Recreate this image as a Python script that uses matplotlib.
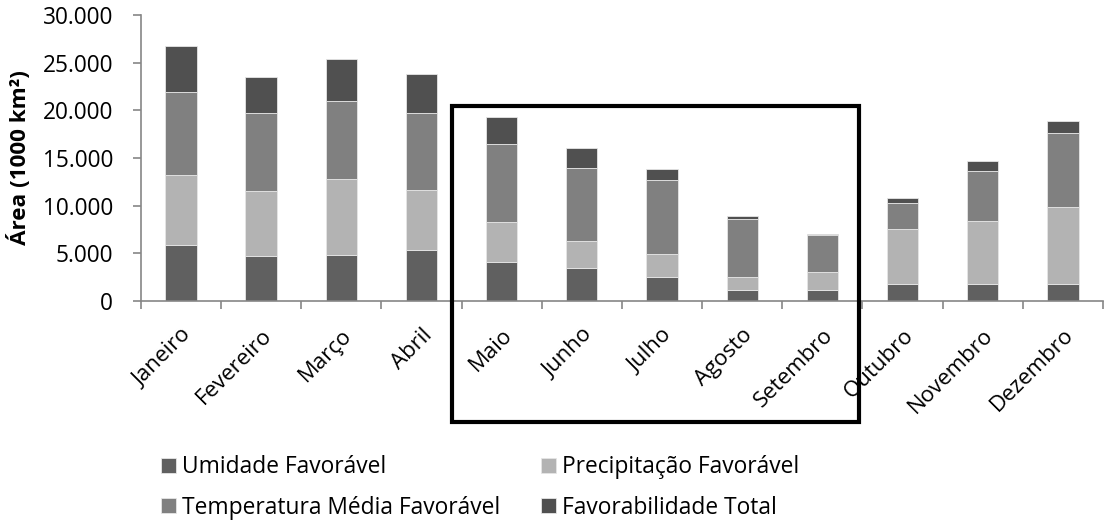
import numpy as np
import matplotlib
matplotlib.use('Agg')
import matplotlib.pyplot as plt
from matplotlib.patches import Rectangle
from matplotlib.ticker import FuncFormatter, FixedLocator

plt.rcParams['font.family'] = ['Open Sans', 'DejaVu Sans']

meses = ['Janeiro', 'Fevereiro', 'Março', 'Abril', 'Maio', 'Junho', 'Julho',
         'Agosto', 'Setembro', 'Outubro', 'Novembro', 'Dezembro']

# area per class (1000 km2), stacked bottom to top
umidade = [5900, 4700, 4800, 5350, 4100, 3450, 2550, 1150, 1150, 1800, 1800, 1800]
precipitacao = [7300, 6800, 8000, 6300, 4200, 2800, 2400, 1330, 1900, 5750, 6600, 8100]
temperatura = [8700, 8200, 8200, 8050, 8200, 7700, 7750, 6100, 3900, 2750, 5250, 7750]
total = [4900, 3800, 4350, 4150, 2850, 2150, 1100, 300, 50, 550, 1000, 1250]

series = [
    ('Umidade Favorável', umidade, '#606060'),
    ('Precipitação Favorável', precipitacao, '#b3b3b3'),
    ('Temperatura Média Favorável', temperatura, '#808080'),
    ('Favorabilidade Total', total, '#505050'),
]

fig = plt.figure(figsize=(11.09, 5.22), dpi=100)
ax = fig.add_axes([0.127, 0.4234, 0.8676, 0.5476])

x = np.arange(len(meses))
bottom = np.zeros(len(meses))
handles = []
for label, vals, color in series:
    b = ax.bar(x, vals, width=0.39, bottom=bottom, color=color,
               edgecolor='#e6e6e6', linewidth=0.6, label=label)
    handles.append(b)
    bottom += np.array(vals)

ax.set_xlim(-0.5, len(meses) - 0.5)
ax.set_ylim(0, 30000)
ax.set_yticks(np.arange(0, 30001, 5000))
ax.yaxis.set_major_formatter(FuncFormatter(lambda v, p: f'{int(v):,}'.replace(',', '.')))

# month names centred on bars, tick marks between categories
ax.set_xticks(x)
ax.set_xticklabels(meses, rotation=45, ha='right', rotation_mode='anchor')
ax.tick_params(axis='x', which='major', length=0, pad=17, labelsize=16)
ax.xaxis.set_minor_locator(FixedLocator(np.arange(-0.5, len(meses), 1.0)))
ax.tick_params(axis='x', which='minor', length=6, color='#868686', width=1.2, direction='out')
ax.tick_params(axis='y', length=6, color='#868686', width=1.2, labelsize=16.3, pad=14)

for side in ['top', 'right']:
    ax.spines[side].set_visible(False)
for side in ['left', 'bottom']:
    ax.spines[side].set_color('#868686')
    ax.spines[side].set_linewidth(1.2)

ax.set_ylabel('Área (1000 km²)', fontsize=16.2, fontweight='bold')
ax.yaxis.set_label_coords(-0.114, 0.5)

# highlight box around May-September
fig.patches.append(Rectangle((451.7 / 1109, 1 - 421.7 / 522), (859.3 - 451.7) / 1109,
                             (421.7 - 106) / 522, transform=fig.transFigure,
                             fill=False, edgecolor='black', linewidth=3.0,
                             joinstyle='miter', zorder=5))

# legend filled column-wise: Umidade/Temperatura left, Precipitação/Total right
order = [0, 2, 1, 3]
fig.legend(handles=[handles[i] for i in order], labels=[series[i][0] for i in order],
           loc='upper left', bbox_to_anchor=(161 / 1109, 0.128), ncol=2, frameon=False,
           fontsize=16.4, handlelength=0.66, handleheight=0.66, handletextpad=0.25,
           columnspacing=1.8, labelspacing=0.72, borderpad=0, borderaxespad=0)

fig.savefig('out.png', dpi=100)
